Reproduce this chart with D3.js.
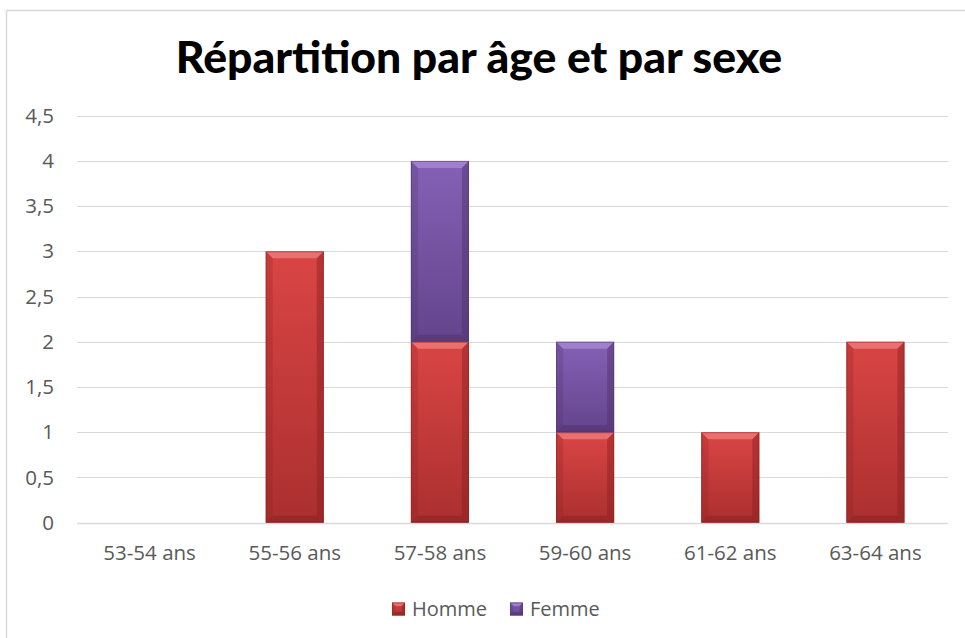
<!DOCTYPE html>
<html>
<head>
<meta charset="utf-8">
<script src="https://cdn.jsdelivr.net/npm/d3@7"></script>
<style>
  body { margin: 0; background: #fff; }
  svg { display: block; }
</style>
</head>
<body>
<svg id="chart"></svg>
<script>
// data
const ages = ["53-54 ans", "55-56 ans", "57-58 ans", "59-60 ans", "61-62 ans", "63-64 ans"];
const homme = [0, 3, 2, 1, 1, 2];
const femme = [0, 0, 2, 1, 0, 0];
const yTicks = [0, 0.5, 1, 1.5, 2, 2.5, 3, 3.5, 4, 4.5];
const seriesNames = ["Homme", "Femme"];

// dimensions
const w = 965, h = 638;
const plotLeft = 77, plotRight = 948, plotTop = 115.7, plotBottom = 522.7;
const labelFont = "'Open Sans', sans-serif";
const labelSize = "20.5px";

const svg = d3.select("#chart").attr("width", w).attr("height", h);

// frame of the chart area
svg.append("rect")
   .attr("x", 6.5).attr("y", 10.5)
   .attr("width", w + 10).attr("height", h + 10)
   .attr("fill", "none").attr("stroke", "#d9d9d9").attr("stroke-width", 1.5);

// gradients
const defs = svg.append("defs");
const palette = {
  Homme: { top: "#da4545", bot: "#ab2f2f", light: "#ec7575", dark: "#8a2020" },
  Femme: { top: "#8561b6", bot: "#64448c", light: "#a384cf", dark: "#4b3169" }
};
seriesNames.forEach(s => {
  const g = defs.append("linearGradient").attr("id", "grad-" + s)
                .attr("x1", 0).attr("y1", 0).attr("x2", 0).attr("y2", 1);
  g.append("stop").attr("offset", "0%").attr("stop-color", palette[s].top);
  g.append("stop").attr("offset", "100%").attr("stop-color", palette[s].bot);
});

// scales
const x = d3.scaleBand().domain(ages).range([plotLeft, plotRight]).paddingInner(0.6).paddingOuter(0.3);
const xb = d3.scaleBand().domain(ages).range([plotLeft, plotRight]);
const y = d3.scaleLinear().domain([0, 4.5]).range([plotBottom, plotTop]);

// title
svg.append("text")
   .attr("x", 479).attr("y", 73)
   .attr("text-anchor", "middle")
   .style("font-family", "Lato, 'Open Sans', sans-serif")
   .style("font-weight", 900)
   .style("font-size", "44.5px")
   .attr("fill", "#000")
   .text("Répartition par âge et par sexe");

// grid
svg.append("g").selectAll("line")
   .data(yTicks)
   .enter().append("line")
   .attr("x1", plotLeft).attr("x2", plotRight)
   .attr("y1", d => Math.round(y(d)) + 0.5).attr("y2", d => Math.round(y(d)) + 0.5)
   .attr("stroke", "#d9d9d9").attr("stroke-width", d => d === 0 ? 1.5 : 1);

// y axis labels
const yAxis = svg.append("g")
   .attr("transform", `translate(54,0)`)
   .call(d3.axisLeft(y).tickValues(yTicks).tickSize(0).tickPadding(0).tickFormat(d => String(d).replace(".", ",")));
yAxis.select(".domain").remove();
yAxis.selectAll("text")
     .style("font-family", labelFont)
     .style("font-size", labelSize)
     .attr("fill", "#595959");

// x axis labels
const xAxis = svg.append("g")
   .attr("transform", `translate(0,${plotBottom})`)
   .call(d3.axisBottom(xb).tickSize(0).tickPadding(0));
xAxis.select(".domain").remove();
xAxis.selectAll("text")
     .style("font-family", labelFont)
     .style("font-size", labelSize)
     .attr("fill", "#595959")
     .attr("y", 37.5)
     .attr("dy", 0);

// bevelled box
function bevelBox(g, x0, y0, bw, bh, s, b) {
  g.append("rect").attr("x", x0).attr("y", y0).attr("width", bw).attr("height", bh)
   .attr("fill", `url(#grad-${s})`);
  const p = palette[s];
  const pts = [
    [[x0, y0], [x0 + bw, y0], [x0 + bw - b, y0 + b], [x0 + b, y0 + b], p.light, 0.9],
    [[x0, y0], [x0 + b, y0 + b], [x0 + b, y0 + bh - b], [x0, y0 + bh], p.dark, 0.25],
    [[x0 + bw, y0], [x0 + bw - b, y0 + b], [x0 + bw - b, y0 + bh - b], [x0 + bw, y0 + bh], p.dark, 0.45],
    [[x0, y0 + bh], [x0 + b, y0 + bh - b], [x0 + bw - b, y0 + bh - b], [x0 + bw, y0 + bh], p.dark, 0.5]
  ];
  pts.forEach(q => {
    g.append("polygon").attr("points", q.slice(0, 4).map(c => c.join(",")).join(" "))
     .attr("fill", q[4]).attr("opacity", q[5]);
  });
  g.append("rect").attr("x", x0 + 0.5).attr("y", y0 + 0.5).attr("width", bw - 1).attr("height", bh - 1)
   .attr("fill", "none").attr("stroke", p.dark).attr("stroke-opacity", 0.5);
}

// stacked bars
const stackData = ages.map((a, i) => ({ age: a, Homme: homme[i], Femme: femme[i] }));
const stacked = d3.stack().keys(seriesNames)(stackData);
const bars = svg.append("g");
stacked.forEach(layer => {
  layer.forEach(d => {
    if (d[1] - d[0] <= 0) return;
    const y0 = y(d[1]), y1 = y(d[0]);
    bevelBox(bars.append("g"), x(d.data.age), y0, x.bandwidth(), y1 - y0, layer.key, 7);
  });
});

// legend
const legend = svg.append("g").attr("transform", "translate(392,602.5)");
const legendX = [0, 118];
seriesNames.forEach((s, i) => {
  const g = legend.append("g").attr("transform", `translate(${legendX[i]},0)`);
  bevelBox(g, 0, 0, 13, 13, s, 3.5);
  g.append("text").attr("x", 20).attr("y", 13.2)
   .style("font-family", labelFont)
   .style("font-size", "20px")
   .attr("fill", "#595959")
   .text(s);
});
</script>
</body>
</html>
